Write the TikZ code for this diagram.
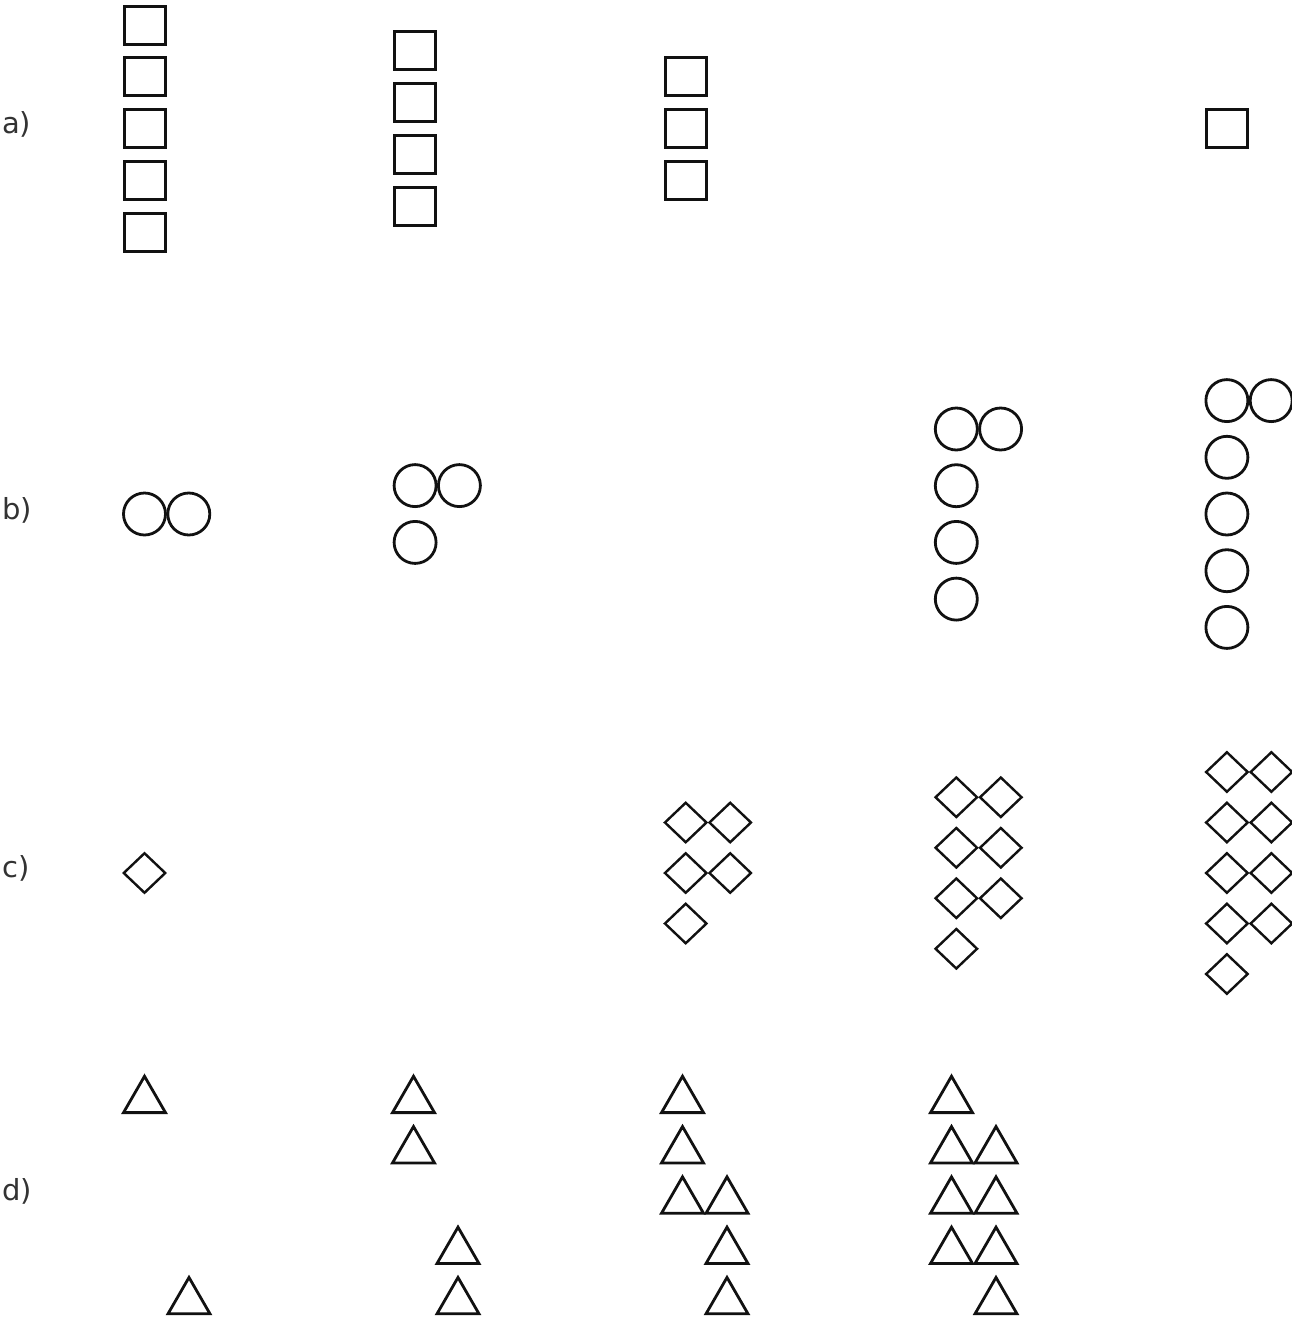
\documentclass[tikz,border=0pt]{standalone}
\usepackage{fontspec}
\setmainfont{DejaVu Sans}
\usetikzlibrary{shapes.geometric}
\definecolor{lbl}{HTML}{333333}
\definecolor{ink}{HTML}{111111}
\begin{document}
\begin{tikzpicture}[x=1pt,y=-1pt,
  lab/.style={anchor=base west,inner sep=0,text=lbl,font=\fontsize{29}{29}\selectfont},
  sq/.style={draw=ink,line width=3pt,rectangle,minimum width=41pt,minimum height=38pt,inner sep=0},
  ci/.style={draw=ink,line width=2.8pt,circle,minimum size=42pt,inner sep=0},
  di/.style={draw=ink,line width=2.4pt,diamond,minimum width=42.5pt,minimum height=40.5pt,inner sep=0},
  tri/.style={draw=ink,line width=2.8pt,regular polygon,regular polygon sides=3,minimum size=48.5pt,inner sep=0}]
\useasboundingbox (0,0) rectangle (1292,1320);
% labels
\node[lab] (la) at (2,133) {a)};
\node[lab] (lb) at (2,519) {b)};
\node[lab] (lc) at (2,877) {c)};
\node[lab] (ld) at (2,1200) {d)};
% row a: squares
\foreach \k in {-2,...,2} \node[sq] (a1-\k) at (144.5,128.5+51.75*\k) {};
\foreach \k in {0,...,3} \node[sq] (a2-\k) at (415.1,128.5+51.75*\k-77.6) {};
\foreach \k in {-1,...,1} \node[sq] (a3-\k) at (685.7,128.5+51.75*\k) {};
\node[sq] (a5-0) at (1226.9,128.5) {};
% row b: circles
\node[ci] (b1-0) at (144.5,514) {};
\node[ci] (b1-1) at (188.8,514) {};
\node[ci] (b2-0) at (415.1,485.6) {};
\node[ci] (b2-1) at (459.4,485.6) {};
\node[ci] (b2-2) at (415.1,542.4) {};
\node[ci] (b4-0) at (956.3,429) {};
\node[ci] (b4-1) at (1000.6,429) {};
\foreach \k in {1,2,3} \node[ci] (b4-r\k) at (956.3,429+56.7*\k) {};
\node[ci] (b5-0) at (1226.9,400.6) {};
\node[ci] (b5-1) at (1271.2,400.6) {};
\foreach \k in {1,...,4} \node[ci] (b5-r\k) at (1226.9,400.6+56.7*\k) {};
% row c: diamonds
\node[di] (c1-0) at (144.5,873) {};
\foreach \k in {0,1} {
  \node[di] (c3-a\k) at (685.7,822.5+50.5*\k) {};
  \node[di] (c3-b\k) at (730.2,822.5+50.5*\k) {};
}
\node[di] (c3-a2) at (685.7,923.5) {};
\foreach \k in {0,1,2} {
  \node[di] (c4-a\k) at (956.3,797.25+50.5*\k) {};
  \node[di] (c4-b\k) at (1000.8,797.25+50.5*\k) {};
}
\node[di] (c4-a3) at (956.3,948.75) {};
\foreach \k in {0,...,3} {
  \node[di] (c5-a\k) at (1226.9,772+50.5*\k) {};
  \node[di] (c5-b\k) at (1271.4,772+50.5*\k) {};
}
\node[di] (c5-a4) at (1226.9,974) {};
% row d: triangles (centre = apex + 24.25)
\def\ty#1{1100.5+50.3*#1}
\node[tri] (d1-a0) at (144.5,\ty{0}) {};
\node[tri] (d1-b4) at (189,\ty{4}) {};
\node[tri] (d2-a0) at (413.5,\ty{0}) {};
\node[tri] (d2-a1) at (413.5,\ty{1}) {};
\node[tri] (d2-b3) at (458,\ty{3}) {};
\node[tri] (d2-b4) at (458,\ty{4}) {};
\node[tri] (d3-a0) at (682.5,\ty{0}) {};
\node[tri] (d3-a1) at (682.5,\ty{1}) {};
\node[tri] (d3-a2) at (682.5,\ty{2}) {};
\node[tri] (d3-b2) at (727,\ty{2}) {};
\node[tri] (d3-b3) at (727,\ty{3}) {};
\node[tri] (d3-b4) at (727,\ty{4}) {};
\node[tri] (d4-a0) at (951.5,\ty{0}) {};
\foreach \k in {1,2,3} {
  \node[tri] (d4-a\k) at (951.5,\ty{\k}) {};
  \node[tri] (d4-b\k) at (996,\ty{\k}) {};
}
\node[tri] (d4-b4) at (996,\ty{4}) {};
\end{tikzpicture}
\end{document}
